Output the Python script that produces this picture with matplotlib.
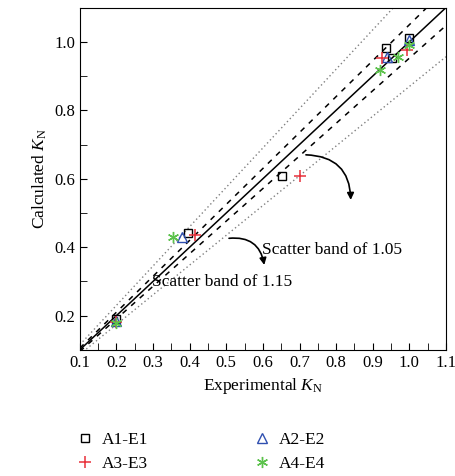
import numpy as np
import matplotlib.pyplot as plt
from matplotlib.ticker import MultipleLocator

plt.rcParams['font.family'] = ['Liberation Serif', 'DejaVu Serif']
plt.rcParams['mathtext.fontset'] = 'custom'
plt.rcParams['mathtext.rm'] = 'Liberation Serif'
plt.rcParams['mathtext.it'] = 'Liberation Serif:italic'

# data
a1_x = [0.20, 0.395, 0.652, 0.936, 0.952, 1.00]
a1_y = [0.19, 0.442, 0.608, 0.982, 0.953, 1.01]
a2_x = [0.20, 0.38, 0.94, 1.00]
a2_y = [0.185, 0.43, 0.956, 1.005]
a3_x = [0.20, 0.415, 0.70, 0.925, 0.993]
a3_y = [0.18, 0.436, 0.608, 0.953, 0.976]
a4_x = [0.20, 0.355, 0.92, 0.97, 1.00]
a4_y = [0.178, 0.43, 0.918, 0.955, 0.99]

band_small = 1.05
band_large = 1.15

fig = plt.figure(figsize=(4.56, 4.76), dpi=100)
ax = fig.add_axes([0.175, 0.265, 0.803, 0.719])

# reference lines
x = np.array([0.1, 1.1])
ax.plot(x, x, color='black', lw=1.1)
ax.plot(x, x * band_small, color='black', lw=1.1, ls=(0, (3.5, 4)))
ax.plot(x, x / band_small, color='black', lw=1.1, ls=(0, (3.5, 4)))
ax.plot(x, x * band_large, color='gray', lw=1.0, ls=(0, (1, 2)))
ax.plot(x, x / band_large, color='gray', lw=1.0, ls=(0, (1, 2)))

# series
h1, = ax.plot(a1_x, a1_y, ls='none', marker='s', ms=6, mfc='none', mec='black', mew=1.0, label='A1-E1')
h2, = ax.plot(a2_x, a2_y, ls='none', marker='^', ms=7, mfc='none', mec='#2f4fb0', mew=1.0, label='A2-E2')
h3, = ax.plot(a3_x, a3_y, ls='none', marker='+', ms=8, mec='#e8303a', mew=1.1, label='A3-E3')
h4, = ax.plot(a4_x, a4_y, ls='none', marker=(6, 2, 0), ms=8, mec='#5cc24c', mew=1.0, label='A4-E4')

ax.set_xlim(0.1, 1.1)
ax.set_ylim(0.1, 1.1)
ax.xaxis.set_major_locator(MultipleLocator(0.1))
ax.xaxis.set_minor_locator(MultipleLocator(0.05))
ax.yaxis.set_major_locator(MultipleLocator(0.2))
ax.yaxis.set_minor_locator(MultipleLocator(0.1))
ax.set_yticks([0.2, 0.4, 0.6, 0.8, 1.0])
ax.tick_params(which='both', direction='in', labelsize=12)
ax.tick_params(which='major', length=5)
ax.tick_params(which='minor', length=5)
ax.set_xticklabels(['%.1f' % v for v in ax.get_xticks()])
ax.set_yticklabels(['%.1f' % v for v in ax.get_yticks()])

ax.set_xlabel(r'Experimental $K_{\mathrm{N}}$', fontsize=12.5)
ax.set_ylabel(r'Calculated $K_{\mathrm{N}}$', fontsize=12.5)

# annotations
ax.annotate('', xy=(0.84, 0.53), xytext=(0.71, 0.67),
            arrowprops=dict(arrowstyle='-|>', color='black', lw=1.2,
                            connectionstyle='arc3,rad=-0.5'))
ax.text(0.597, 0.392, 'Scatter band of 1.05', fontsize=12.5, ha='left', va='center')
ax.annotate('', xy=(0.605, 0.34), xytext=(0.50, 0.425),
            arrowprops=dict(arrowstyle='-|>', color='black', lw=1.2,
                            connectionstyle='arc3,rad=-0.5'))
ax.text(0.297, 0.299, 'Scatter band of 1.15', fontsize=12.5, ha='left', va='center')

# legend filled row by row
fig.legend([h1, h3, h2, h4], ['A1-E1', 'A3-E3', 'A2-E2', 'A4-E4'],
           loc='lower left', bbox_to_anchor=(0.133, -0.024), ncol=2, frameon=False,
           fontsize=12.5, columnspacing=6.0, handletextpad=0.5, labelspacing=0.45,
           handlelength=1.0)

fig.savefig('out.png', dpi=100)
